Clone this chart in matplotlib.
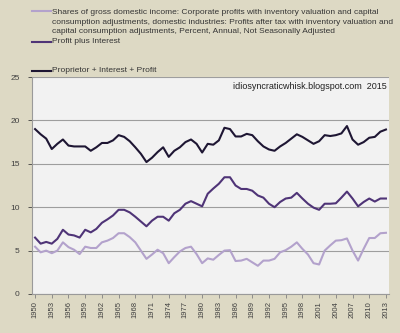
import matplotlib
matplotlib.use("Agg")
import matplotlib.pyplot as plt
from matplotlib.lines import Line2D

# Years and the three series (percent of GDI)
years = list(range(1950, 2014))

profit_after_tax = [
    5.45, 4.8, 5.0, 4.7, 5.0, 5.95, 5.4, 5.1, 4.6, 5.45, 5.3, 5.3, 5.95, 6.15, 6.45, 7.0,
    7.0, 6.55, 5.95, 5.0, 4.05, 4.55, 5.1, 4.7, 3.55, 4.25, 4.9, 5.3, 5.45, 4.6, 3.55, 4.1,
    3.95, 4.5, 5.0, 5.05, 3.8, 3.85, 4.05, 3.65, 3.25, 3.85, 3.85, 4.05, 4.8, 5.05, 5.45, 5.95,
    5.2, 4.55, 3.55, 3.4, 5.0, 5.6, 6.15, 6.2, 6.4, 5.0, 3.85, 5.2, 6.45, 6.45, 7.0, 7.05,
]

profit_plus_interest = [
    6.5, 5.8, 6.0, 5.8, 6.35, 7.4, 6.85, 6.75, 6.5, 7.4, 7.1, 7.5, 8.2, 8.6, 9.05, 9.7,
    9.7, 9.4, 8.9, 8.35, 7.8, 8.45, 8.9, 8.9, 8.45, 9.3, 9.7, 10.4, 10.7, 10.4, 10.1, 11.55,
    12.15, 12.7, 13.45, 13.45, 12.5, 12.1, 12.1, 11.9, 11.35, 11.1, 10.4, 10.0, 10.6, 11.0, 11.1, 11.65,
    11.0, 10.4, 9.95, 9.7, 10.4, 10.4, 10.45, 11.1, 11.8, 11.0, 10.1, 10.6, 11.0, 10.65, 11.0, 11.0,
]

prop_int_profit = [
    19.0, 18.4, 17.9, 16.7, 17.3, 17.8, 17.1, 17.0, 17.0, 17.0, 16.5, 16.9, 17.4, 17.4, 17.7, 18.3,
    18.1, 17.6, 16.9, 16.15, 15.2, 15.7, 16.35, 16.9, 15.8, 16.5, 16.9, 17.5, 17.8, 17.3, 16.3, 17.3,
    17.2, 17.7, 19.15, 19.0, 18.15, 18.15, 18.45, 18.3, 17.6, 17.0, 16.65, 16.5, 17.0, 17.4, 17.9, 18.4,
    18.1, 17.7, 17.3, 17.6, 18.3, 18.2, 18.3, 18.5, 19.35, 17.8, 17.2, 17.5, 18.0, 18.1, 18.7, 18.95,
]

tick_years = list(range(1950, 2014, 3))

label1 = ("Shares of gross domestic income: Corporate profits with inventory valuation and capital\n"
          "consumption adjustments, domestic industries: Profits after tax with inventory valuation and\n"
          "capital consumption adjustments, Percent, Annual, Not Seasonally Adjusted")
label2 = "Profit plus Interest"
label3 = "Proprietor + Interest + Profit"

c1 = "#b3a2cc"
c2 = "#4f3477"
c3 = "#1e1633"

plt.rcParams['font.family'] = ['Liberation Sans', 'DejaVu Sans']

fig = plt.figure(figsize=(4.0, 3.33), dpi=100)
fig.patch.set_facecolor("#ddd9c4")
ax = fig.add_axes([32 / 400, 39 / 333, 357 / 400, 217 / 333])
ax.set_facecolor("#f2f2f2")

ax.plot(years, profit_after_tax, color=c1, lw=1.5)
ax.plot(years, profit_plus_interest, color=c2, lw=1.5)
ax.plot(years, prop_int_profit, color=c3, lw=1.5)

ax.set_xlim(1950 - 0.55, 2013 + 0.55)
ax.set_ylim(0, 25)
ax.set_yticks([0, 5, 10, 15, 20, 25])
ax.set_xticks(tick_years)
ax.set_xticklabels([str(y) for y in tick_years], rotation=90, fontsize=5.5, color="#404040")
ax.tick_params(axis='y', labelsize=6, colors="#404040", length=3, width=0.6, pad=6)
ax.tick_params(axis='x', length=3, width=0.6, colors="#808080", labelcolor="#404040", pad=2)
ax.grid(axis='y', color="#9e9e9e", lw=0.8)
ax.set_axisbelow(True)
for s in ['top', 'right']:
    ax.spines[s].set_visible(False)
for s in ['left', 'bottom']:
    ax.spines[s].set_color("#9a9a9a")
    ax.spines[s].set_linewidth(0.8)

ax.text(0.995, 0.955, "idiosyncraticwhisk.blogspot.com  2015", transform=ax.transAxes,
        ha='right', va='center', fontsize=6.5, color="#202020")

# legend drawn by hand to follow the uneven spacing of the original
def legend_entry(y_px, color, text, text_y_px=None):
    yf = 1 - y_px / 333
    fig.add_artist(Line2D([32 / 400, 51 / 400], [yf, yf], color=color, lw=1.5,
                          transform=fig.transFigure))
    ty = yf if text_y_px is None else 1 - text_y_px / 333
    fig.text(52 / 400, ty, text, ha='left', va='center', fontsize=6.0,
             color="#353535", linespacing=1.55)

legend_entry(10.5, c1, label1, text_y_px=22)
legend_entry(41.5, c2, label2)
legend_entry(71, c3, label3)

fig.savefig("out.png", dpi=100, facecolor=fig.get_facecolor())
